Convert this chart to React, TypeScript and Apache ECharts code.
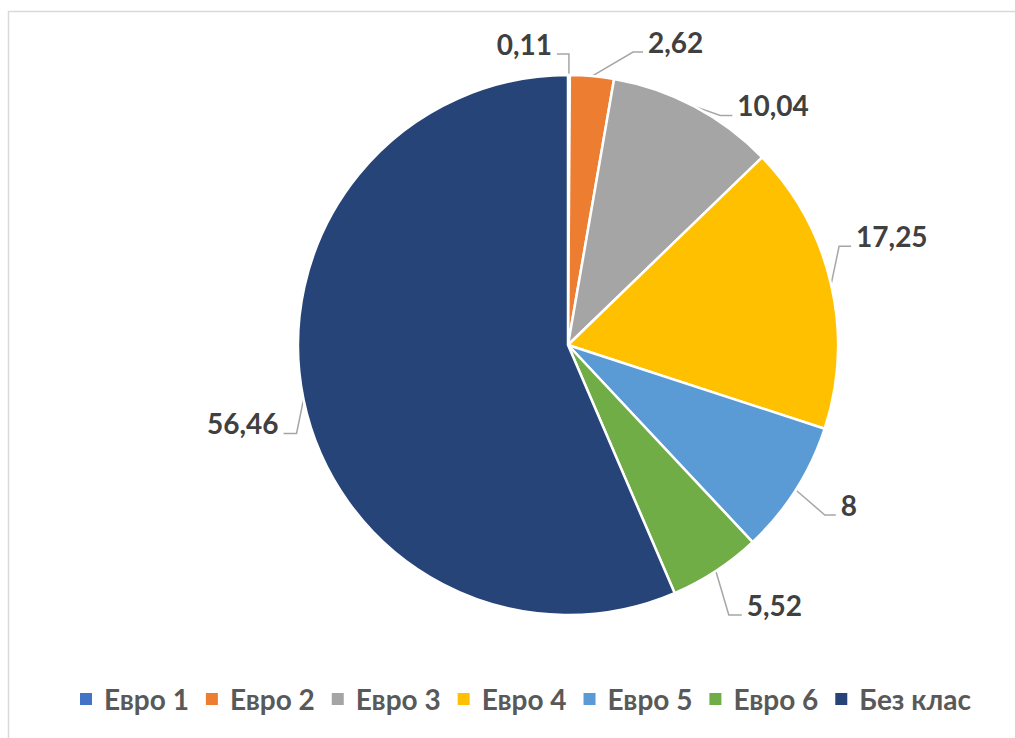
import React, { useEffect, useRef } from "react";
import * as echarts from "echarts";

const categories = ["Евро 1", "Евро 2", "Евро 3", "Евро 4", "Евро 5", "Евро 6", "Без клас"];
const values = [0.11, 2.62, 10.04, 17.25, 8, 5.52, 56.46];
const colors = ["#4472C4", "#ED7D31", "#A5A5A5", "#FFC000", "#5B9BD5", "#70AD47", "#264478"];

// Label guide offsets relative to the slice's outer-edge anchor (layout only)
const labelElbow = [
  [0, -21], [41, -24], [26, 9], [8, -38], [29, 25], [13, 44], [-7, 34],
];
const labelTail = [-12, 10, 12, 12, 11, 13, -13];

const FONT = "Lato, 'Open Sans', sans-serif";

export default function App() {
  const ref = useRef<HTMLDivElement>(null);
  useEffect(() => {
    if (!ref.current) return;
    const chart = echarts.init(ref.current, null, { renderer: "svg" });
    chart.setOption({
      animation: false,
      backgroundColor: "#ffffff",
      color: colors,
      graphic: [
        {
          type: "rect",
          shape: { x: 8.5, y: 11.5, width: 1100, height: 800 },
          style: { fill: "none", stroke: "#D9D9D9", lineWidth: 1.5 },
          silent: true,
          z: -1,
        },
      ],
      legend: {
        top: 680,
        left: 73,
        itemWidth: 14,
        itemHeight: 14,
        itemGap: 15,
        icon: "rect",
        textStyle: {
          fontFamily: FONT,
          fontSize: 28,
          fontWeight: "bold",
          color: "#595959",
          padding: [0, 0, 0, 6],
        },
        data: categories,
      },
      series: [
        {
          type: "pie",
          center: [568, 345],
          radius: 270,
          startAngle: 90,
          clockwise: true,
          avoidLabelOverlap: false,
          itemStyle: { borderColor: "#ffffff", borderWidth: 2.5 },
          label: {
            show: true,
            position: "outside",
            formatter: (p: any) => String(p.value).replace(".", ","),
            fontFamily: FONT,
            fontSize: 28,
            fontWeight: "bold",
            color: "#404040",
          },
          labelLine: {
            show: true,
            length: 14,
            length2: 12,
            lineStyle: { color: "#A6A6A6", width: 1.5 },
          },
          labelLayout: (params: any) => {
            const pts = params.labelLinePoints;
            if (!pts || !pts.length) return {};
            const i = params.dataIndex;
            const a = pts[0];
            const e = [a[0] + labelElbow[i][0], a[1] + labelElbow[i][1]];
            const t = [e[0] + labelTail[i], e[1]];
            const right = labelTail[i] > 0;
            return {
              x: t[0] + (right ? 5 : -5),
              y: t[1] - 10,
              align: right ? "left" : "right",
              verticalAlign: "middle",
              labelLinePoints: [a, e, t],
            };
          },
          data: categories.map((c, i) => ({ name: c, value: values[i] })),
        },
      ],
    });
    return () => chart.dispose();
  }, []);
  return (
    <div
      ref={ref}
      style={{ position: "fixed", left: 0, top: 0, width: 1015, height: 738 }}
    />
  );
}
